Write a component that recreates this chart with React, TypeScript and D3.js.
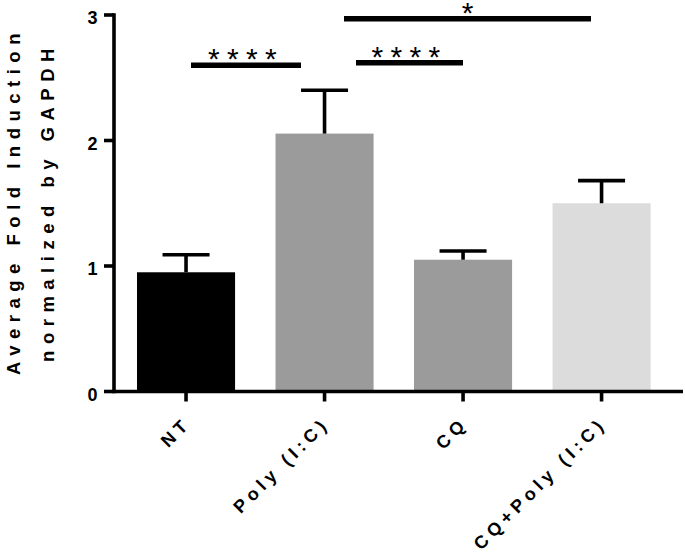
import React from "react";
import * as d3 from "d3";

const categories = ["NT", "Poly (I:C)", "CQ", "CQ+Poly (I:C)"];
const means = [0.95, 2.055, 1.05, 1.5];
const errors = [0.14, 0.345, 0.07, 0.18];
const barColors = ["#000000", "#9b9b9b", "#9b9b9b", "#dcdcdc"];
const yTicks = [0, 1, 2, 3];
const sigLabels = ["****", "****", "*"];
const sigLevels = [2.6, 2.62, 2.97];

export default function App() {
  const W = 685, H = 552;
  const axisX = 114;
  const axisY = 391.5;
  const y = d3.scaleLinear().domain([0, 3]).range([axisY, 15]);
  const x = d3.scaleBand<string>().domain(categories).range([137, 650.6]).paddingInner(0.292).paddingOuter(0);
  const bw = x.bandwidth();
  const cx = (i: number) => (x(categories[i]) as number) + bw / 2;
  const font = "'Liberation Sans', Arial, Helvetica, sans-serif";
  const capW = 47;
  const sw = 3.6;

  // significance line x extents
  const sigX: [number, number][] = [
    [191, 301],
    [356, 463],
    [344, 591],
  ];

  return (
    <svg width={W} height={H} style={{ position: "absolute", left: 0, top: 0 }} fontFamily={font}>
      {/* bars */}
      {categories.map((c, i) => (
        <rect key={c} x={x(c)} y={y(means[i])} width={bw} height={axisY - y(means[i])} fill={barColors[i]} />
      ))}
      {/* error bars */}
      {categories.map((c, i) => (
        <g key={"e" + c} stroke="#000" strokeWidth={sw}>
          <line x1={cx(i)} x2={cx(i)} y1={y(means[i])} y2={y(means[i] + errors[i])} />
          <line x1={cx(i) - capW / 2} x2={cx(i) + capW / 2} y1={y(means[i] + errors[i])} y2={y(means[i] + errors[i])} />
        </g>
      ))}
      {/* y axis */}
      <line x1={axisX} x2={axisX} y1={y(3) - sw / 2} y2={axisY + sw / 2} stroke="#000" strokeWidth={sw} />
      {yTicks.map((t) => (
        <g key={t}>
          <line x1={axisX - 10} x2={axisX} y1={y(t)} y2={y(t)} stroke="#000" strokeWidth={sw} />
          <text x={97.5} y={y(t)} dy="0.5em" textAnchor="end" fontSize={18} fontWeight="bold">{t}</text>
        </g>
      ))}
      {/* x axis */}
      <line x1={axisX} x2={683} y1={axisY} y2={axisY} stroke="#000" strokeWidth={sw} />
      {categories.map((c, i) => (
        <g key={"xt" + c}>
          <line x1={cx(i)} x2={cx(i)} y1={axisY} y2={axisY + 10} stroke="#000" strokeWidth={sw} />
          <text
            transform={`translate(${cx(i) + 6},${axisY + 33}) rotate(-45)`}
            textAnchor="end"
            fontSize={18}
            fontWeight="bold"
            letterSpacing={4.8}
          >
            {c}
          </text>
        </g>
      ))}
      {/* y title */}
      <text transform={`translate(20,201) rotate(-90)`} textAnchor="middle" fontSize={18.5} fontWeight="bold" letterSpacing={6.5}>
        Average Fold Induction
      </text>
      <text transform={`translate(54,202) rotate(-90)`} textAnchor="middle" fontSize={18.5} fontWeight="bold" letterSpacing={6.5}>
        normalized by GAPDH
      </text>
      {/* significance */}
      {sigLabels.map((s, k) => {
        const [a, b] = sigX[k];
        const yy = y(sigLevels[k]);
        return (
          <g key={"s" + k}>
            <line x1={a} x2={b} y1={yy} y2={yy} stroke="#000" strokeWidth={5.5} />
            <text x={(a + b) / 2} y={yy + 4} textAnchor="middle" fontSize={30} letterSpacing={s.length > 1 ? 7.3 : 0}>
              {s}
            </text>
          </g>
        );
      })}
    </svg>
  );
}
